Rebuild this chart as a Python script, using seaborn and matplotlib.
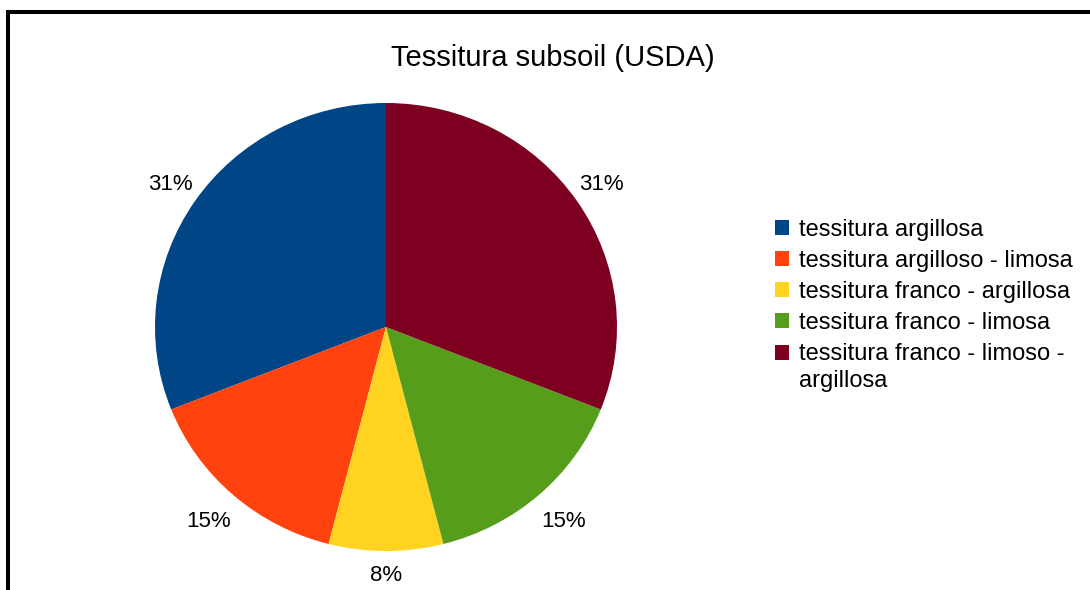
import matplotlib
matplotlib.use("Agg")
import matplotlib.pyplot as plt
from matplotlib.patches import Rectangle
import numpy as np
import seaborn as sns

# Soil texture classes (USDA) and their share of subsoil samples, in percent
categories = [
    "tessitura argillosa",
    "tessitura argilloso - limosa",
    "tessitura franco - argillosa",
    "tessitura franco - limosa",
    "tessitura franco - limoso -\nargillosa",
]
shares = [31, 15, 8, 15, 31]
colors = ["#004586", "#ff420e", "#ffd320", "#579d1c", "#7e0021"]

sns.set_theme(style="white")
plt.rcParams["font.family"] = ["Liberation Sans", "DejaVu Sans"]
plt.rcParams["text.color"] = "#000000"

W, H = 1090, 590
fig = plt.figure(figsize=(W / 100, H / 100), dpi=100)
fig.patch.set_facecolor("white")

# pie axes: centre (386, 327) px, slightly wider than tall
cx, cy, rx, ry = 386, 327, 231, 224
ax = fig.add_axes([(cx - rx) / W, (H - (cy + ry)) / H, 2 * rx / W, 2 * ry / H])

wedges, texts, autotexts = ax.pie(
    shares,
    colors=colors,
    startangle=90,
    counterclock=True,
    autopct="%d%%",
    pctdistance=1.15,
    wedgeprops=dict(linewidth=0),
    textprops=dict(fontsize=16, color="#000000"),
)
ax.set_aspect("auto")
ax.set_xlim(-1, 1)
ax.set_ylim(-1, 1)
ax.axis("off")

# per-wedge label distance from the centre
label_dist = [1.13, 1.16, 1.11, 1.16, 1.13]
for w, t, d in zip(wedges, autotexts, label_dist):
    ang = np.deg2rad((w.theta1 + w.theta2) / 2)
    t.set_position((d * np.cos(ang), d * np.sin(ang)))
    t.set_ha("center")
    t.set_va("center")

fig.text(553 / W, 1 - 66 / H, "Tessitura subsoil (USDA)",
         ha="center", va="baseline", fontsize=21, color="#000000")

leg = fig.legend(
    wedges, categories,
    loc="upper left",
    bbox_to_anchor=(775 / W, 1 - 219 / H),
    frameon=False,
    fontsize=17,
    handlelength=0.6,
    handleheight=0.6,
    handletextpad=0.4,
    labelspacing=0.38,
    borderpad=0,
    borderaxespad=0,
)
for txt in leg.get_texts():
    txt.set_color("#000000")
leg.get_texts()[-1].set_linespacing(1.3)
# keep the marker of the two-line entry level with its first line
last = leg.get_patches()[-1]
last.set_y(last.get_y() + 10.8)

# outer frame: only the top and left edges fall inside the image
fig.add_artist(Rectangle((8 / W, -0.5), 2.0, 1.5 - 12 / H,
                         transform=fig.transFigure, fill=False,
                         edgecolor="black", linewidth=2.9))

fig.savefig("out.png", dpi=100, facecolor="white")
